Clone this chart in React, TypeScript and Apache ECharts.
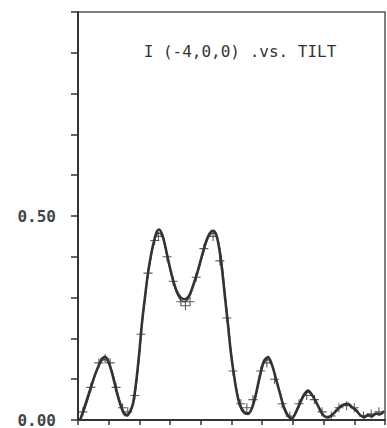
import React, { useEffect, useRef } from "react";
import * as echarts from "echarts";

const titleText = "I (-4,0,0) .vs. TILT";
const yTickLabels: Record<string, string> = { "0": "0.00", "0.5": "0.50" };

const tilt = [
  0.07, 0.16, 0.29, 0.42, 0.55, 0.68, 0.78, 0.88, 0.98, 1.11, 1.24, 1.37, 1.5, 1.6, 1.69, 1.79, 1.89, 1.99,
  2.08, 2.18, 2.28, 2.38, 2.48, 2.57, 2.64, 2.74, 2.83, 2.96, 3.09, 3.22, 3.35, 3.48, 3.62, 3.75, 3.88, 4.01,
  4.14, 4.27, 4.4, 4.5, 4.59, 4.69, 4.79, 4.89, 4.98, 5.08, 5.18, 5.28, 5.41, 5.54, 5.67, 5.8, 5.93, 6.06,
  6.19, 6.32, 6.45, 6.58, 6.71, 6.84, 6.97, 7.1, 7.23, 7.36, 7.49, 7.62, 7.75, 7.88, 8.01, 8.14, 8.27, 8.4,
  8.53, 8.66, 8.79, 8.92, 9.05, 9.19, 9.32, 9.45, 9.58, 9.71, 9.84, 9.97,
];

const calc = [
  0.0, 0.02, 0.05, 0.08, 0.11, 0.135, 0.15, 0.155, 0.145, 0.115, 0.075, 0.04, 0.015, 0.011, 0.02, 0.04, 0.09, 0.16,
  0.235, 0.3, 0.36, 0.405, 0.44, 0.462, 0.467, 0.455, 0.43, 0.385, 0.345, 0.315, 0.3, 0.296, 0.305, 0.33, 0.36, 0.395,
  0.43, 0.455, 0.464, 0.455, 0.425, 0.37, 0.3, 0.23, 0.165, 0.11, 0.065, 0.035, 0.018, 0.015, 0.03, 0.065, 0.11, 0.145,
  0.154, 0.135, 0.1, 0.065, 0.03, 0.01, 0.004, 0.02, 0.042, 0.062, 0.072, 0.062, 0.045, 0.025, 0.01, 0.006, 0.012, 0.022,
  0.032, 0.038, 0.04, 0.032, 0.025, 0.012, 0.007, 0.012, 0.009, 0.016, 0.014, 0.022,
];

const fit2 = [
  0.003, 0.015, 0.042, 0.075, 0.108, 0.132, 0.145, 0.148, 0.142, 0.12, 0.082, 0.045, 0.02, 0.014, 0.018, 0.035, 0.08, 0.15,
  0.228, 0.295, 0.355, 0.4, 0.436, 0.455, 0.458, 0.45, 0.425, 0.38, 0.34, 0.31, 0.293, 0.29, 0.3, 0.325, 0.355, 0.39,
  0.425, 0.45, 0.458, 0.452, 0.432, 0.385, 0.31, 0.24, 0.172, 0.115, 0.07, 0.04, 0.022, 0.018, 0.028, 0.06, 0.105, 0.14,
  0.148, 0.132, 0.1, 0.068, 0.035, 0.014, 0.006, 0.016, 0.038, 0.058, 0.068, 0.06, 0.046, 0.028, 0.012, 0.008, 0.01, 0.02,
  0.03, 0.036, 0.037, 0.03, 0.022, 0.012, 0.009, 0.01, 0.012, 0.014, 0.016, 0.02,
];

const crossX = [
  0.16, 0.42, 0.68, 0.88, 1.05, 1.24, 1.45, 1.62, 1.85, 2.05, 2.28, 2.5, 2.62, 2.9, 3.1, 3.35, 3.5, 3.65, 3.85, 4.1,
  4.4, 4.62, 4.85, 5.05, 5.3, 5.5, 5.7, 5.95, 6.15, 6.4, 6.65, 6.9, 7.2, 7.45, 7.7, 7.95, 8.25, 8.5, 8.75, 9.0, 9.3,
  9.55, 9.8,
];
const crossY = [
  0.02, 0.08, 0.14, 0.15, 0.14, 0.08, 0.03, 0.02, 0.06, 0.21, 0.36, 0.44, 0.45, 0.4, 0.34, 0.29, 0.28, 0.29, 0.35, 0.42,
  0.45, 0.39, 0.25, 0.12, 0.04, 0.03, 0.05, 0.12, 0.14, 0.1, 0.04, 0.01, 0.04, 0.06, 0.05, 0.02, 0.01, 0.03, 0.035, 0.03,
  0.01, 0.015, 0.02,
];

const ink = "#333333";

export default function App() {
  const ref = useRef<HTMLDivElement>(null);
  useEffect(() => {
    if (!ref.current) return;
    const chart = echarts.init(ref.current, null, { renderer: "svg" });
    const plus = "path://M-0.6,-5H0.6V-0.6H5V0.6H0.6V5H-0.6V0.6H-5V-0.6H-0.6Z";
    chart.setOption({
      animation: false,
      backgroundColor: "#ffffff",
      title: {
        text: titleText,
        left: 235,
        top: 38,
        textAlign: "center",
        textStyle: { fontFamily: "DejaVu Sans Mono", fontSize: 16, fontWeight: "normal", color: ink },
      },
      grid: {
        left: 78,
        right: 2,
        top: 12,
        bottom: 5,
        show: true,
        borderColor: "#555",
        borderWidth: 1.5,
        backgroundColor: "transparent",
      },
      xAxis: {
        type: "value",
        min: 0,
        max: 10,
        interval: 1,
        axisLine: { show: true, lineStyle: { color: ink, width: 2 } },
        axisTick: { show: true, length: 5, lineStyle: { color: ink, width: 1.5 } },
        axisLabel: { show: false },
        splitLine: { show: false },
      },
      yAxis: {
        type: "value",
        min: 0,
        max: 1,
        interval: 0.1,
        axisLine: { show: true, lineStyle: { color: ink, width: 2 } },
        axisTick: { show: true, length: 7, lineStyle: { color: ink, width: 1.5 } },
        axisLabel: {
          margin: 22,
          fontFamily: "DejaVu Sans Mono",
          fontSize: 16,
          fontWeight: "bold",
          color: "#444",
          padding: [0, 0, 8, 0],
          formatter: (v: number) => yTickLabels[String(Math.round(v * 10) / 10)] ?? "",
        },
        splitLine: { show: false },
      },
      series: [
        {
          type: "line",
          data: tilt.map((x, i) => [x, calc[i]]),
          showSymbol: false,
          smooth: 0.3,
          lineStyle: { color: ink, width: 2.6 },
          z: 3,
        },
        {
          type: "line",
          data: tilt.map((x, i) => [x, fit2[i]]),
          showSymbol: false,
          smooth: 0.3,
          lineStyle: { color: "#444", width: 1.2 },
          z: 2,
        },
        {
          type: "scatter",
          data: crossX.map((x, i) => [x, crossY[i]]),
          symbol: plus,
          symbolSize: 9,
          itemStyle: { color: ink },
          z: 4,
        },
      ],
    });
    return () => chart.dispose();
  }, []);
  return <div ref={ref} style={{ width: 387, height: 428, position: "absolute", left: 0, top: 0 }} />;
}
